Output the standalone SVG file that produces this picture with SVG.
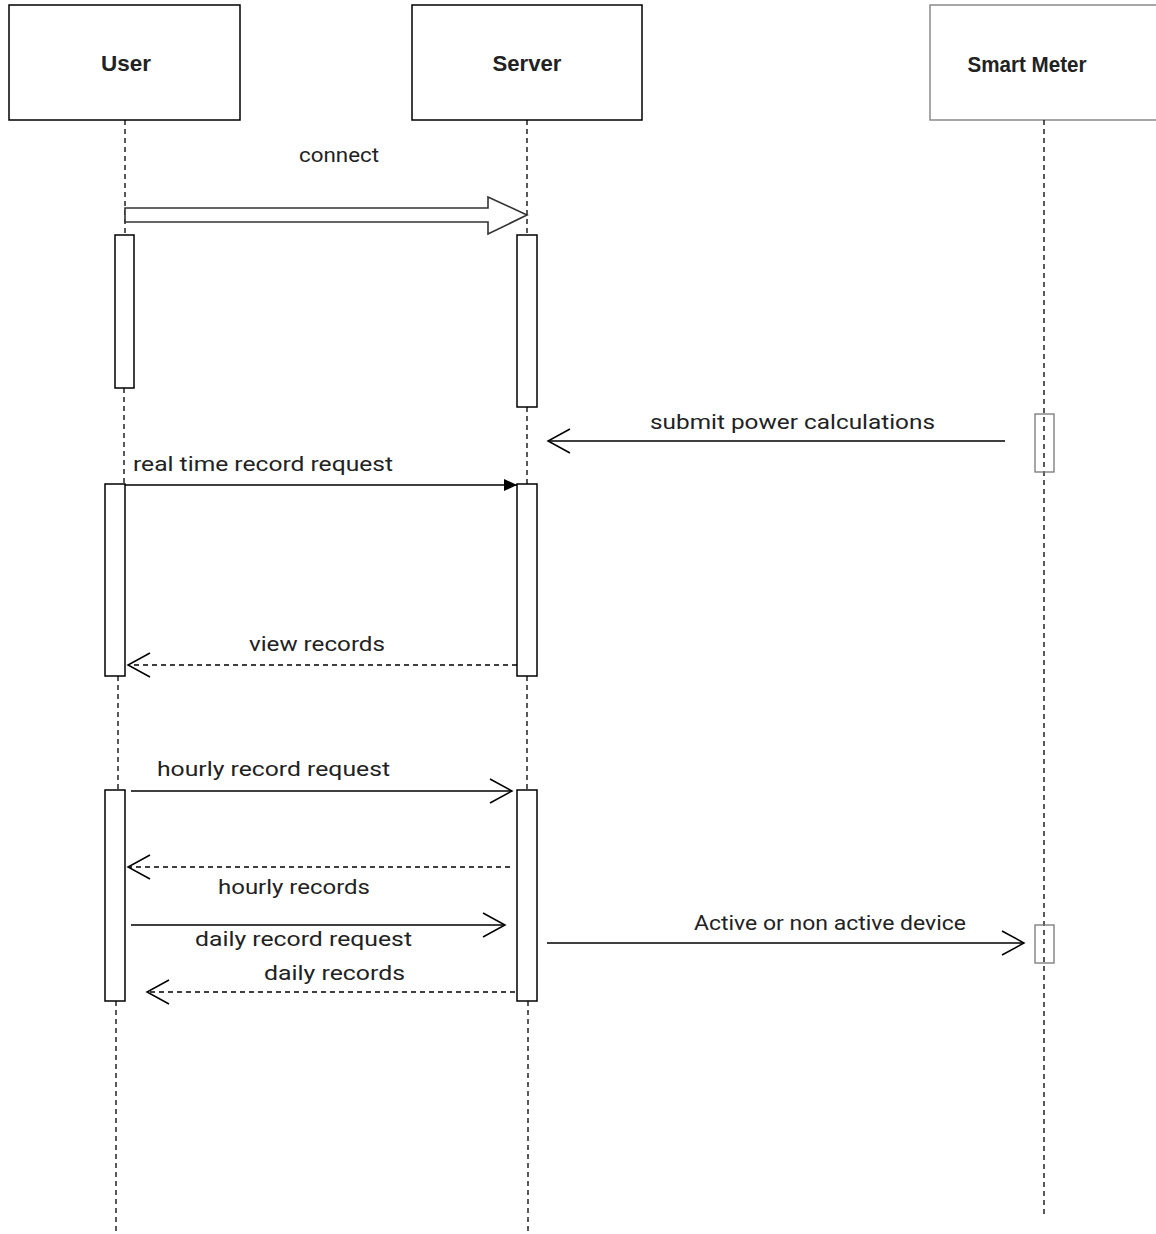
<svg xmlns="http://www.w3.org/2000/svg" width="1156" height="1234" viewBox="0 0 1156 1234">
<style>
.box{fill:#fff;stroke:#000;stroke-width:1.5}
.box2{fill:#fff;stroke:#8a8a8a;stroke-width:1.5}
.hd{font-family:"Liberation Sans",Arial,sans-serif;font-weight:bold;font-size:22px;fill:#222;text-anchor:middle}
.lbl{font-family:Roboto,"Liberation Sans",sans-serif;font-size:21px;fill:#222}
.life{stroke:#000;stroke-width:1.3;stroke-dasharray:5 4;fill:none}
.act{fill:#fff;stroke:#000;stroke-width:1.5}
.act2{fill:none;stroke:#777;stroke-width:1.3}
.msg{stroke:#000;stroke-width:1.5;fill:none}
.ret{stroke:#000;stroke-width:1.5;fill:none;stroke-dasharray:5 4}
</style>
<defs>
<marker id="open" markerUnits="userSpaceOnUse" markerWidth="30" markerHeight="30" refX="0" refY="0" viewBox="-26 -15 30 30" orient="auto" overflow="visible">
<path d="M-22,-12 L0,0 L-22,12" fill="none" stroke="#000" stroke-width="1.5"/>
</marker>
<marker id="filled" markerUnits="userSpaceOnUse" markerWidth="20" markerHeight="20" refX="0" refY="0" viewBox="-16 -8 20 16" orient="auto" overflow="visible">
<path d="M-13,-6 L0,0 L-13,6 Z" fill="#000"/>
</marker>
</defs>

<g id="user">
<rect class="box" x="9" y="5" width="231" height="115"/>
<text class="hd" x="126" y="71" textLength="50" lengthAdjust="spacingAndGlyphs">User</text>
<path class="life" d="M125,120 V235 M124,388 V484 M118,676 V790 M116,1001 V1234"/>
<rect class="act" x="115" y="235" width="19" height="153"/>
<rect class="act" x="105" y="484" width="20" height="192"/>
<rect class="act" x="105" y="790" width="20" height="211"/>
</g>

<g id="server">
<rect class="box" x="412" y="5" width="230" height="115"/>
<text class="hd" x="527" y="71" textLength="69" lengthAdjust="spacingAndGlyphs">Server</text>
<path class="life" d="M527,120 V235 M527,407 V484 M527,676 V790 M528,1001 V1234"/>
<rect class="act" x="517" y="235" width="20" height="172"/>
<rect class="act" x="517" y="484" width="20" height="192"/>
<rect class="act" x="517" y="790" width="20" height="211"/>
</g>

<g id="smartmeter">
<rect class="box2" x="930" y="5" width="240" height="115"/>
<text class="hd" x="1027" y="72" textLength="119" lengthAdjust="spacingAndGlyphs">Smart Meter</text>
<path class="life" d="M1044,120 V1215"/>
<rect class="act2" x="1035" y="414" width="19" height="58"/>
<rect class="act2" x="1035" y="925" width="19" height="38"/>
</g>

<g id="connectors">
<polygon points="125,208 488,208 488,197 527,215 488,234 488,222 125,222" fill="#fff" stroke="#333" stroke-width="1.6"/>
<text class="lbl" x="299" y="162" textLength="80" lengthAdjust="spacingAndGlyphs">connect</text>

<line class="msg" x1="1005" y1="441" x2="548" y2="441" marker-end="url(#open)"/>
<text class="lbl" x="650" y="429" textLength="285" lengthAdjust="spacingAndGlyphs">submit power calculations</text>

<line class="msg" x1="125" y1="485" x2="517" y2="485" marker-end="url(#filled)"/>
<text class="lbl" x="133" y="471" textLength="260" lengthAdjust="spacingAndGlyphs">real time record request</text>

<line class="ret" x1="517" y1="665" x2="128" y2="665" marker-end="url(#open)"/>
<text class="lbl" x="249" y="651" textLength="136" lengthAdjust="spacingAndGlyphs">view records</text>

<line class="msg" x1="131" y1="791" x2="512" y2="791" marker-end="url(#open)"/>
<text class="lbl" x="157" y="776" textLength="233" lengthAdjust="spacingAndGlyphs">hourly record request</text>

<line class="ret" x1="510" y1="867" x2="128" y2="867" marker-end="url(#open)"/>
<text class="lbl" x="218" y="894" textLength="152" lengthAdjust="spacingAndGlyphs">hourly records</text>

<line class="msg" x1="131" y1="925" x2="505" y2="925" marker-end="url(#open)"/>
<text class="lbl" x="195" y="946" textLength="217" lengthAdjust="spacingAndGlyphs">daily record request</text>

<line class="ret" x1="515" y1="992" x2="147" y2="992" marker-end="url(#open)"/>
<text class="lbl" x="264" y="980" textLength="141" lengthAdjust="spacingAndGlyphs">daily records</text>

<line class="msg" x1="547" y1="943" x2="1024" y2="943" marker-end="url(#open)"/>
<text class="lbl" x="694" y="930" textLength="272" lengthAdjust="spacingAndGlyphs" font-family="'Liberation Sans',Arial,sans-serif">Active or non active device</text>
</g>
</svg>
